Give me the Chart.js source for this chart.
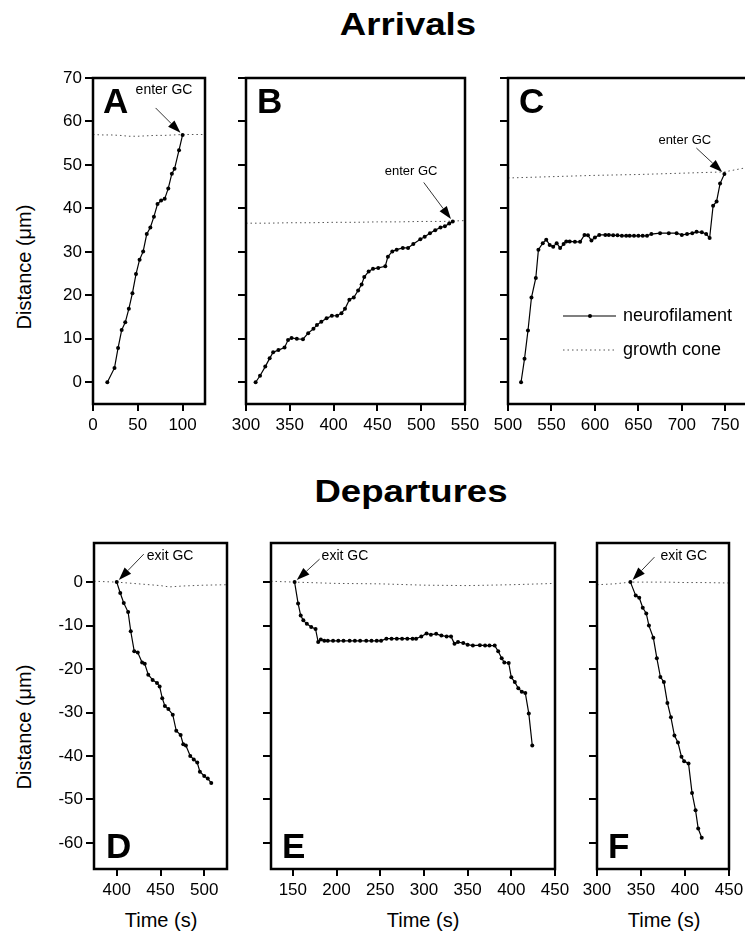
<!DOCTYPE html>
<html>
<head>
<meta charset="utf-8">
<script src="https://cdn.jsdelivr.net/npm/chart.js@4/dist/chart.umd.min.js"></script>
<style>
  body { margin: 0; width: 745px; height: 935px; overflow: hidden; background: #fff; position: relative;
         font-family: "Liberation Sans", Arial, sans-serif; color: #000; }
  canvas { position: absolute; }
  .title { position: absolute; font-weight: bold; font-size: 31px; line-height: 31px; white-space: nowrap;
           transform: translateX(-50%) scaleX(1.18); }
  .ylab { position: absolute; font-size: 20px; line-height: 20px; white-space: nowrap;
          transform: translate(-50%, -50%) rotate(-90deg); }
  .xlab { position: absolute; font-size: 20px; line-height: 20px; white-space: nowrap; transform: translateX(-50%); }
</style>
</head>
<body>
<div class="title" style="left:408px;top:9px">Arrivals</div>
<div class="title" style="left:411px;top:476px">Departures</div>
<div class="ylab" style="left:24px;top:267px">Distance (μm)</div>
<div class="ylab" style="left:24px;top:727px">Distance (μm)</div>
<div class="xlab" style="left:161px;top:910px">Time (s)</div>
<div class="xlab" style="left:423px;top:910px">Time (s)</div>
<div class="xlab" style="left:664px;top:910px">Time (s)</div>

<canvas id="cA"></canvas>
<canvas id="cB"></canvas>
<canvas id="cC"></canvas>
<canvas id="cD"></canvas>
<canvas id="cE"></canvas>
<canvas id="cF"></canvas>

<script>
// ===== Data =====
// neurofilament tracks
const aTime = [16, 24, 28, 32, 36, 40, 44, 48, 52, 56, 60, 64, 68, 72, 76, 80, 84, 88, 91, 96, 100];
const aDist = [0, 3.3, 7.9, 12.0, 13.8, 16.9, 20.5, 24.9, 28.2, 30.1, 34.1, 35.6, 38.1, 41.0, 41.8, 42.2, 44.6, 48.0, 49.1, 53.4, 56.9];

const bTime = [311, 316, 322, 327, 331, 337, 344, 348, 352, 358, 365, 371, 377, 381, 386, 392, 398, 404, 409, 413,
               418, 423, 428, 432, 435, 440, 445, 451, 459, 462, 467, 472, 479, 485, 491, 499, 504, 510, 516, 522, 527, 532, 536];
const bDist = [0, 1.5, 3.6, 5.5, 6.9, 7.4, 8.0, 9.7, 10.2, 10.0, 9.9, 11.3, 12.3, 13.2, 13.9, 14.7, 15.3, 15.3, 15.9, 16.9,
               19.0, 19.5, 21.1, 22.5, 24.2, 25.5, 26.1, 26.3, 26.7, 28.9, 30.1, 30.5, 30.9, 30.9, 31.8, 32.9, 33.5, 34.3, 35.0, 35.6, 35.9, 36.5, 37.0];

const cTime = [515, 519, 523, 527, 532, 535, 540, 544, 548, 552, 556, 560, 564, 567, 571, 577, 583, 588, 592, 596,
               600, 605, 612, 616, 621, 626, 631, 636, 640, 645, 650, 655, 660, 665, 675, 685, 694, 700, 706, 712,
               717, 723, 728, 732, 736, 740, 744, 749];
const cDist = [0, 5.4, 11.9, 19.5, 24.0, 30.5, 32.0, 32.8, 31.6, 31.2, 32.0, 30.9, 31.8, 32.4, 32.4, 32.3, 32.3, 33.9, 33.8, 32.6,
               33.3, 33.9, 33.9, 33.9, 33.8, 33.8, 33.7, 33.7, 33.7, 33.7, 33.7, 33.7, 33.7, 34.1, 34.3, 34.3, 34.3, 33.9, 34.1, 34.3,
               34.6, 34.5, 34.1, 33.2, 40.6, 41.6, 45.7, 47.9];

const dTime = [400, 404, 408, 413, 416, 420, 424, 429, 432, 436, 441, 446, 449, 452, 455, 459, 464, 468, 473, 476,
               479, 484, 488, 492, 495, 500, 504, 508];
const dDist = [0, -2.5, -4.8, -6.9, -11.3, -15.9, -16.2, -18.5, -18.8, -21.3, -22.5, -23.2, -24.0, -26.7, -28.5, -29.2, -30.5, -34.2, -35.2, -37.3,
               -37.6, -40.0, -40.8, -41.5, -43.6, -44.6, -45.2, -46.2];

const eTime = [152, 156, 159, 162, 166, 171, 176, 179, 182, 186, 190, 196, 202, 208, 215, 221, 227, 234, 240, 246,
               251, 257, 263, 269, 275, 281, 287, 291, 297, 303, 308, 314, 320, 326, 331, 335, 339, 345, 350, 356,
               364, 370, 375, 381, 385, 389, 392, 397, 400, 404, 408, 412, 416, 420, 424];
const eDist = [0, -4.9, -7.7, -8.8, -9.6, -10.3, -10.8, -13.8, -13.2, -13.5, -13.5, -13.5, -13.5, -13.5, -13.5, -13.5, -13.5, -13.5, -13.5, -13.5,
               -13.5, -13.0, -13.0, -13.0, -13.0, -13.0, -13.0, -13.0, -12.5, -11.8, -12.1, -11.9, -12.3, -12.5, -12.5, -14.2, -13.8, -14.0, -14.4, -14.6,
               -14.5, -14.6, -14.6, -14.6, -15.9, -17.5, -18.5, -18.6, -21.9, -23.0, -24.4, -25.2, -25.5, -30.2, -37.6];

const fTime = [338, 344, 348, 352, 356, 359, 364, 368, 372, 376, 380, 384, 388, 392, 396, 399, 404, 408, 412, 415, 419];
const fDist = [0, -3.1, -3.6, -5.9, -7.2, -10.0, -12.8, -17.5, -21.8, -23.0, -27.8, -31.1, -35.3, -36.9, -40.2, -41.2, -41.7, -48.5, -52.5, -56.7, -58.8];

// growth cone tracks
const aGcTime = [0, 10, 20, 30, 40, 50, 60, 70, 80, 90, 100, 110, 125];
const aGcDist = [57.0, 56.9, 56.9, 56.8, 56.6, 56.6, 56.7, 56.8, 56.8, 56.9, 57.0, 57.0, 57.0];
const bGcTime = [300, 325, 350, 375, 400, 425, 450, 475, 500, 525, 550];
const bGcDist = [36.6, 36.6, 36.7, 36.7, 36.8, 36.8, 36.9, 36.9, 37.0, 37.0, 37.2];
const cGcTime = [500, 550, 600, 650, 700, 749, 775];
const cGcDist = [47.0, 47.3, 47.6, 47.8, 48.1, 48.4, 49.4];
const dGcTime = [374, 400, 425, 450, 460, 475, 500, 526];
const dGcDist = [0.2, 0, -0.4, -0.8, -1.1, -0.9, -0.7, -0.6];
const eGcTime = [125, 152, 200, 250, 300, 350, 400, 450];
const eGcDist = [0.2, 0, -0.3, -0.4, -0.7, -0.8, -0.6, -0.3];
const fGcTime = [300, 320, 338, 360, 380, 400, 420, 450];
const fGcDist = [-0.6, -0.4, 0, 0, 0, -0.1, -0.1, -0.2];

// tick labels
const aTicks = [0, 50, 100];
const bTicks = [300, 350, 400, 450, 500, 550];
const cTicks = [500, 550, 600, 650, 700, 750];
const dTicks = [400, 450, 500];
const eTicks = [150, 200, 250, 300, 350, 400, 450];
const fTicks = [300, 350, 400, 450];
const topYTicks = [0, 10, 20, 30, 40, 50, 60, 70];
const bottomYTicks = [-60, -50, -40, -30, -20, -10, 0];

const seriesNames = ["neurofilament", "growth cone"];

// ===== Setup =====
Chart.defaults.font.family = '"Liberation Sans", Arial, sans-serif';
Chart.defaults.font.size = 17;
Chart.defaults.color = "#000";

const PADL = 90, PADT = 30, PADR = 30, PADB = 50;
const FONT = '"Liberation Sans", Arial, sans-serif';
const GC_COLOR = "#555";

function pts(xs, ys) {
  return xs.map((x, i) => ({ x: x, y: ys[i] }));
}

function fixScale(size, isX) {
  return scale => {
    if (isX) scale.height = size; else scale.width = size;
    scale.paddingLeft = scale.paddingRight = scale.paddingTop = scale.paddingBottom = 0;
  };
}

// frame, panel letter, arrow note, legend
function decoPlugin(p) {
  return {
    id: "deco",
    afterDatasetsDraw(chart) {
      const { ctx, chartArea: a, scales } = chart;
      ctx.save();
      ctx.strokeStyle = "#000";
      ctx.lineWidth = 2.5;
      ctx.strokeRect(a.left, a.top, a.right - a.left, a.bottom - a.top);

      ctx.fillStyle = "#000";
      ctx.font = "bold 35px " + FONT;
      ctx.textAlign = "left";
      ctx.textBaseline = "alphabetic";
      ctx.fillText(p.letter, a.left + p.letterDx, p.letterBottom ? a.bottom - 11 : a.top + 35);

      // arrow pointing at first or last neurofilament point
      const ds = chart.data.datasets[0].data;
      const pt = p.note.last ? ds[ds.length - 1] : ds[0];
      const tx = scales.x.getPixelForValue(pt.x), ty = scales.y.getPixelForValue(pt.y);
      const sx = tx + p.note.tail[0], sy = ty + p.note.tail[1];
      let ux = tx - sx, uy = ty - sy;
      const len = Math.hypot(ux, uy);
      ux /= len; uy /= len;
      const hx = tx - ux * 3, hy = ty - uy * 3;
      const bx = hx - ux * 13, by = hy - uy * 13;
      ctx.lineWidth = 0.8;
      ctx.beginPath();
      ctx.moveTo(sx, sy);
      ctx.lineTo(bx, by);
      ctx.stroke();
      ctx.beginPath();
      ctx.moveTo(hx, hy);
      ctx.lineTo(bx - uy * 4.5, by + ux * 4.5);
      ctx.lineTo(bx + uy * 4.5, by - ux * 4.5);
      ctx.closePath();
      ctx.fill();

      ctx.font = p.note.size + "px " + FONT;
      ctx.textBaseline = "middle";
      ctx.fillText(p.note.text, tx + p.note.label[0], ty + p.note.label[1]);

      if (p.legend) {
        const lx = a.left + 55, ly = a.top + 238;
        ctx.lineWidth = 1.2;
        ctx.beginPath();
        ctx.moveTo(lx, ly);
        ctx.lineTo(lx + 53, ly);
        ctx.stroke();
        ctx.beginPath();
        ctx.arc(lx + 27, ly, 2, 0, Math.PI * 2);
        ctx.fill();
        ctx.strokeStyle = GC_COLOR;
        ctx.lineWidth = 1;
        ctx.setLineDash([1.5, 3]);
        ctx.beginPath();
        ctx.moveTo(lx, ly + 34);
        ctx.lineTo(lx + 53, ly + 34);
        ctx.stroke();
        ctx.setLineDash([]);
        ctx.font = "18px " + FONT;
        ctx.fillText(chart.data.datasets[0].label, lx + 60, ly);
        ctx.fillText(chart.data.datasets[1].label, lx + 60, ly + 34);
      }
      ctx.restore();
    }
  };
}

function makePanel(p) {
  const cv = document.getElementById(p.id);
  const w = p.box[2] - p.box[0] + PADL + PADR;
  const h = p.box[3] - p.box[1] + PADT + PADB;
  cv.width = w; cv.height = h;
  cv.style.left = (p.box[0] - PADL) + "px";
  cv.style.top = (p.box[1] - PADT) + "px";
  cv.style.width = w + "px"; cv.style.height = h + "px";

  new Chart(cv.getContext("2d"), {
    type: "line",
    data: {
      datasets: [
        {
          label: seriesNames[0],
          data: pts(p.nf[0], p.nf[1]),
          borderColor: "#000",
          borderWidth: 1.2,
          pointRadius: 2,
          pointBackgroundColor: "#000",
          pointBorderWidth: 0,
          tension: 0
        },
        {
          label: seriesNames[1],
          data: pts(p.gc[0], p.gc[1]),
          borderColor: GC_COLOR,
          borderWidth: 1,
          borderDash: [1.5, 3],
          pointRadius: 0,
          tension: 0
        }
      ]
    },
    options: {
      responsive: false,
      animation: false,
      devicePixelRatio: 1,
      layout: { padding: { left: 0, top: PADT, right: PADR, bottom: 0 } },
      plugins: { legend: { display: false }, tooltip: { enabled: false } },
      scales: {
        x: {
          type: "linear",
          min: p.xr[0], max: p.xr[1],
          afterFit: fixScale(PADB, true),
          afterBuildTicks: s => { s.ticks = p.xTicks.map(v => ({ value: v })); },
          border: { display: false },
          grid: { drawOnChartArea: false, drawTicks: true, tickLength: 7, color: "#000", lineWidth: 2 },
          ticks: { padding: 4, maxRotation: 0, autoSkip: false, font: { size: 17 } }
        },
        y: {
          type: "linear",
          min: p.yr[0], max: p.yr[1],
          afterFit: fixScale(PADL, false),
          afterBuildTicks: s => { s.ticks = p.yTicks.map(v => ({ value: v })); },
          border: { display: false },
          grid: { drawOnChartArea: false, drawTicks: true, tickLength: 8, color: "#000", lineWidth: 2 },
          ticks: { padding: 3, font: { size: 17 }, callback: v => (p.showY ? v : "") }
        }
      }
    },
    plugins: [decoPlugin(p)]
  });
}

// ===== Panels =====
makePanel({ id: "cA", box: [93, 78, 205, 404], xr: [0, 125], yr: [-5, 70], xTicks: aTicks, yTicks: topYTicks, showY: true,
  nf: [aTime, aDist], gc: [aGcTime, aGcDist], letter: "A", letterDx: 10, letterBottom: false,
  note: { text: "enter GC", last: true, size: 14, tail: [-27, -27], label: [-47, -45] } });

makePanel({ id: "cB", box: [246, 78, 465, 404], xr: [300, 550], yr: [-5, 70], xTicks: bTicks, yTicks: topYTicks, showY: false,
  nf: [bTime, bDist], gc: [bGcTime, bGcDist], letter: "B", letterDx: 11, letterBottom: false,
  note: { text: "enter GC", last: true, size: 13, tail: [-29, -39], label: [-68, -50] } });

makePanel({ id: "cC", box: [508, 78, 747, 404], xr: [500, 775], yr: [-5, 70], xTicks: cTicks, yTicks: topYTicks, showY: false,
  nf: [cTime, cDist], gc: [cGcTime, cGcDist], letter: "C", letterDx: 11, letterBottom: false, legend: true,
  note: { text: "enter GC", last: true, size: 13, tail: [-28, -26], label: [-66, -34] } });

makePanel({ id: "cD", box: [94, 543, 227, 869], xr: [374, 526], yr: [-66, 9], xTicks: dTicks, yTicks: bottomYTicks, showY: true,
  nf: [dTime, dDist], gc: [dGcTime, dGcDist], letter: "D", letterDx: 12, letterBottom: true,
  note: { text: "exit GC", last: false, size: 14, tail: [27, -28], label: [30, -26] } });

makePanel({ id: "cE", box: [271, 543, 555, 869], xr: [125, 450], yr: [-66, 9], xTicks: eTicks, yTicks: bottomYTicks, showY: false,
  nf: [eTime, eDist], gc: [eGcTime, eGcDist], letter: "E", letterDx: 11, letterBottom: true,
  note: { text: "exit GC", last: false, size: 14, tail: [25, -23], label: [27, -26] } });

makePanel({ id: "cF", box: [597, 543, 729, 869], xr: [300, 450], yr: [-66, 9], xTicks: fTicks, yTicks: bottomYTicks, showY: false,
  nf: [fTime, fDist], gc: [fGcTime, fGcDist], letter: "F", letterDx: 11, letterBottom: true,
  note: { text: "exit GC", last: false, size: 14, tail: [24, -25], label: [30, -26] } });
</script>
</body>
</html>
